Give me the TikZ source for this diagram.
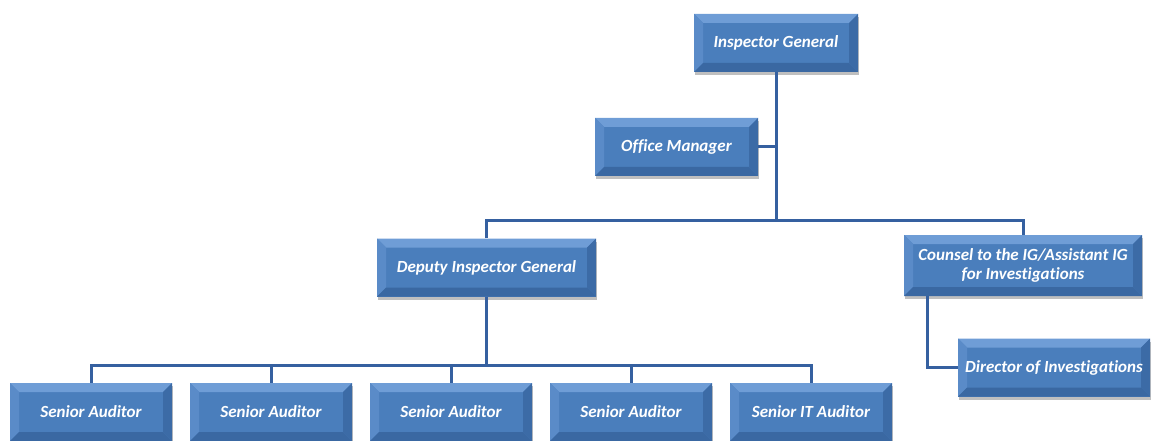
\documentclass[tikz,border=0pt]{standalone}
\usepackage{fontspec}
\setmainfont[Ligatures=NoCommon]{Carlito}
\usetikzlibrary{shadows}
\definecolor{boxblue}{HTML}{4A7EBC}
\definecolor{bevlight}{HTML}{6F9DD6}
\definecolor{bevside}{HTML}{5A8BC8}
\definecolor{bevdark}{HTML}{3A68A2}
\definecolor{linkblue}{HTML}{3560A0}
\newcommand{\bevw}{9pt}
\tikzstyle{orgbox} = [rectangle, fill=boxblue, text=white, align=center, inner sep=2pt,
  font=\fontsize{17}{19.5}\selectfont\bfseries\itshape, minimum height=58pt,
  drop shadow={opacity=0.25, shadow xshift=1pt, shadow yshift=-3pt, fill=black},
  path picture={
    \fill[bevlight] (path picture bounding box.north west) -- (path picture bounding box.north east)
      -- ([xshift=-\bevw,yshift=-\bevw]path picture bounding box.north east)
      -- ([xshift=\bevw,yshift=-\bevw]path picture bounding box.north west) -- cycle;
    \fill[bevside] (path picture bounding box.north west) -- (path picture bounding box.south west)
      -- ([xshift=\bevw,yshift=\bevw]path picture bounding box.south west)
      -- ([xshift=\bevw,yshift=-\bevw]path picture bounding box.north west) -- cycle;
    \fill[bevdark] (path picture bounding box.south west) -- (path picture bounding box.south east)
      -- ([xshift=-\bevw,yshift=\bevw]path picture bounding box.south east)
      -- ([xshift=\bevw,yshift=\bevw]path picture bounding box.south west) -- cycle;
    \fill[bevdark!85!boxblue] (path picture bounding box.north east) -- (path picture bounding box.south east)
      -- ([xshift=-\bevw,yshift=\bevw]path picture bounding box.south east)
      -- ([xshift=-\bevw,yshift=-\bevw]path picture bounding box.north east) -- cycle;
  }]
\tikzstyle{link} = [draw=linkblue, line width=3pt]

\begin{document}
\begin{tikzpicture}[x=1pt, y=-1pt]
      \useasboundingbox (0,0) rectangle (1152,441);
      \node (ig)    [orgbox, minimum width=164pt] at (776,43)     {Inspector General};
      \node (om)    [orgbox, minimum width=163pt] at (676.5,147)  {Office Manager};
      \node (dep)   [orgbox, minimum width=219pt] at (486.5,267.5) {Deputy Inspector General};
      \node (cou)   [orgbox, minimum width=238pt, minimum height=61pt] at (1023,265.5) {Counsel to the IG/Assistant IG\\for Investigations};
      \node (dir)   [orgbox, minimum width=192pt] at (1054,367.5) {Director of Investigations};

      \node (sa1)   [orgbox, minimum width=162pt] at (91,412)   {Senior Auditor};
      \node (sa2)   [orgbox, minimum width=162pt] at (271,412)  {Senior Auditor};
      \node (sa3)   [orgbox, minimum width=162pt] at (451,412)  {Senior Auditor};
      \node (sa4)   [orgbox, minimum width=162pt] at (631,412)  {Senior Auditor};
      \node (sit)   [orgbox, minimum width=162pt] at (811,412)  {Senior IT Auditor};

      \coordinate (topbus) at (0,220);
      \coordinate (lowbus) at (0,365);

      \draw [link] (ig.south)  -- (ig.south |- topbus);
      \draw [link] (om.east)   -- (om.east -| ig.south);
      \draw [link] (dep.north) -- (dep.north |- topbus) -| (cou.north);
      \draw [link] ([xshift=-96pt]cou.south) |- (dir.west);
      \draw [link] (dep.south) -- (dep.south |- lowbus);
      \draw [link] (sa1.north) -- (sa1.north |- lowbus) -| (sit.north);
      \foreach \n in {sa2,sa3,sa4}
        \draw [link] (\n.north) -- (\n.north |- lowbus);
    \end{tikzpicture}
\end{document}
